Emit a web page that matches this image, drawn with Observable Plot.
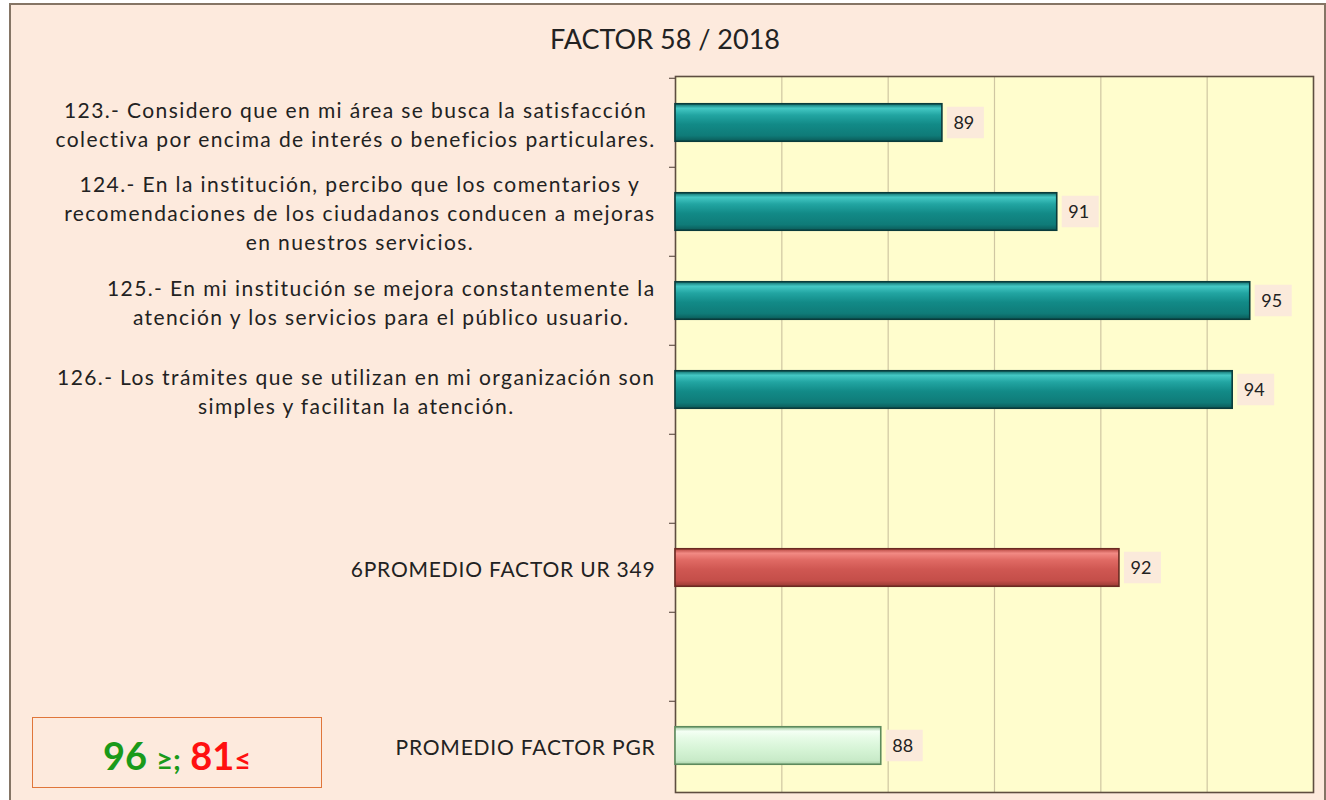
<!DOCTYPE html>
<html>
<head>
<meta charset="utf-8">
<script src="https://cdn.jsdelivr.net/npm/d3@7"></script>
<script src="https://cdn.jsdelivr.net/npm/@observablehq/plot@0.6"></script>
<style>
  body { margin: 0; background: #ffffff; }
  #wrap { position: relative; width: 1326px; height: 800px; overflow: hidden; font-family: Lato, "Open Sans", sans-serif; }
  #bg { position: absolute; left: 9px; top: 3px; width: 1317px; height: 800px; background: #fdeadd; border: 2px solid #857565; box-sizing: border-box; }
  #title { position: absolute; left: 0; width: 1330px; top: 22px; text-align: center; font-size: 27px; color: #222; }
  #chart { position: absolute; left: 0; top: 0; }
  #legend { position: absolute; left: 32px; top: 717px; width: 290px; height: 71px; border: 1.5px solid #e0763a; box-sizing: border-box; display: flex; align-items: center; justify-content: center; font-weight: bold; font-size: 38px; padding-top: 4px; }
  #legend .g { color: #1a9a1a; }
  #legend .r { color: #ff1010; }
  #legend .s { font-size: 29px; }
</style>
</head>
<body>
<div id="wrap">
  <div id="bg"></div>
  <div id="title">FACTOR 58 / 2018</div>
  <div id="chart"></div>
  <div id="legend"><span class="g">96 <span class="s">≥;</span></span>&nbsp;<span class="r">81<span class="s">≤</span></span></div>
</div>
<script>
// ---- data ----
const categories = [
  "123.- Considero que en mi área se busca la satisfacción\ncolectiva por encima de interés o beneficios particulares.",
  "124.- En la institución, percibo que los comentarios y\nrecomendaciones de los ciudadanos conducen a mejoras\nen nuestros servicios.",
  "125.- En mi institución se mejora constantemente la\natención y los servicios para el público usuario.",
  "126.- Los trámites que se utilizan en mi organización son\nsimples y facilitan la atención.",
  " ",
  "6PROMEDIO FACTOR UR 349",
  "  ",
  "PROMEDIO FACTOR PGR"
];
const values = [89.02, 91.18, 94.81, 94.48, null, 92.35, null, 87.87];
const valueLabels = ["89", "91", "95", "94", "", "92", "", "88"];
const groups = ["item", "item", "item", "item", "none", "ur", "none", "pgr"];
const xDomain = [84, 96];
const xGridTicks = [86, 88, 90, 92, 94];

const rows = categories.map((c, i) => ({cat: c, value: values[i], label: valueLabels[i], group: groups[i]}))
  .filter(d => d.value != null);
const xMin = xDomain[0];

const defs = () => {
  const s = d3.create("svg:defs");
  const mk = (id, stops) => {
    const g = s.append("linearGradient").attr("id", id)
      .attr("x1", 0).attr("y1", 0).attr("x2", 0).attr("y2", 1);
    stops.forEach(([o, c]) => g.append("stop").attr("offset", o).attr("stop-color", c));
  };
  mk("gTeal", [[0, "#0f6b6a"], [0.12, "#44c8c4"], [0.3, "#22a5a2"], [0.55, "#128a87"], [0.85, "#0f7b78"], [1, "#0b5a58"]]);
  mk("gRed", [[0, "#b5453f"], [0.12, "#f28a84"], [0.3, "#e06a64"], [0.55, "#cf5752"], [0.85, "#c44e49"], [1, "#9a3a34"]]);
  mk("gGreen", [[0, "#9cc89c"], [0.12, "#f4fff4"], [0.3, "#e6fbe6"], [0.6, "#d6f4d6"], [0.9, "#c8eac8"], [1, "#a8d0a8"]]);
  return s.node();
};

const band = (800 - 76 - 8) / categories.length;
const barInset = (band - 38) / 2;
const boxInset = (band - 32) / 2;

const chart = Plot.plot({
  width: 1326,
  height: 800,
  marginLeft: 675,
  marginRight: 13,
  marginTop: 76,
  marginBottom: 8,
  style: {background: "transparent", fontFamily: "Lato, 'Open Sans', sans-serif", fontSize: "20px", color: "#222", overflow: "visible"},
  x: {domain: xDomain, axis: null},
  y: {domain: categories, padding: 0, axis: null},
  marks: [
    defs,
    Plot.frame({fill: "#fffdcd", stroke: null}),
    Plot.ruleX(xGridTicks, {stroke: "#cfc6a2", strokeWidth: 1.2}),
    Plot.axisY({tickSize: 0, tickPadding: 20, fontSize: 21, lineHeight: 1.38, textAnchor: "end", fill: "#222", label: null}),
    Plot.axisY({tickSize: 6, fill: "none", dy: -band / 2, stroke: "#4a3a30", label: null}),
    Plot.frame({stroke: "#5e4e40", strokeWidth: 1.6}),
    Plot.barX(rows.filter(d => d.group === "item"), {x1: d => xMin, x2: "value", y: "cat", insetTop: barInset, insetBottom: barInset, fill: "url(#gTeal)", stroke: "#0a3b3b", strokeWidth: 1.6}),
    Plot.barX(rows.filter(d => d.group === "ur"), {x1: d => xMin, x2: "value", y: "cat", insetTop: barInset, insetBottom: barInset, fill: "url(#gRed)", stroke: "#6a2a22", strokeWidth: 1.6}),
    Plot.barX(rows.filter(d => d.group === "pgr"), {x1: d => xMin, x2: "value", y: "cat", insetTop: barInset, insetBottom: barInset, fill: "url(#gGreen)", stroke: "#5d8a5d", strokeWidth: 1.6}),
    Plot.barX(rows, {x1: "value", x2: "value", y: "cat", insetLeft: 5, insetRight: -42, insetTop: boxInset, insetBottom: boxInset, fill: "#fbeadb"}),
    Plot.text(rows, {x: "value", y: "cat", text: "label", dx: 11, textAnchor: "start", fontSize: 18, fill: "#222"})
  ]
});

document.getElementById("chart").appendChild(chart);

// wider letter spacing for tick labels, then center the lines of each multi-line label within its block
const lbl = chart.querySelector('g[aria-label="y-axis tick label"]');
if (lbl) {
  lbl.querySelectorAll("text").forEach(t => {
    const spans = Array.from(t.querySelectorAll("tspan"));
    t.setAttribute("letter-spacing", spans.length > 1 ? "1.4" : "0.8");
    if (spans.length > 1) {
      const w = spans.map(s => s.getComputedTextLength());
      const m = Math.max(...w);
      spans.forEach((s, i) => s.setAttribute("dx", -(m - w[i]) / 2));
    }
  });
}
</script>
</body>
</html>
